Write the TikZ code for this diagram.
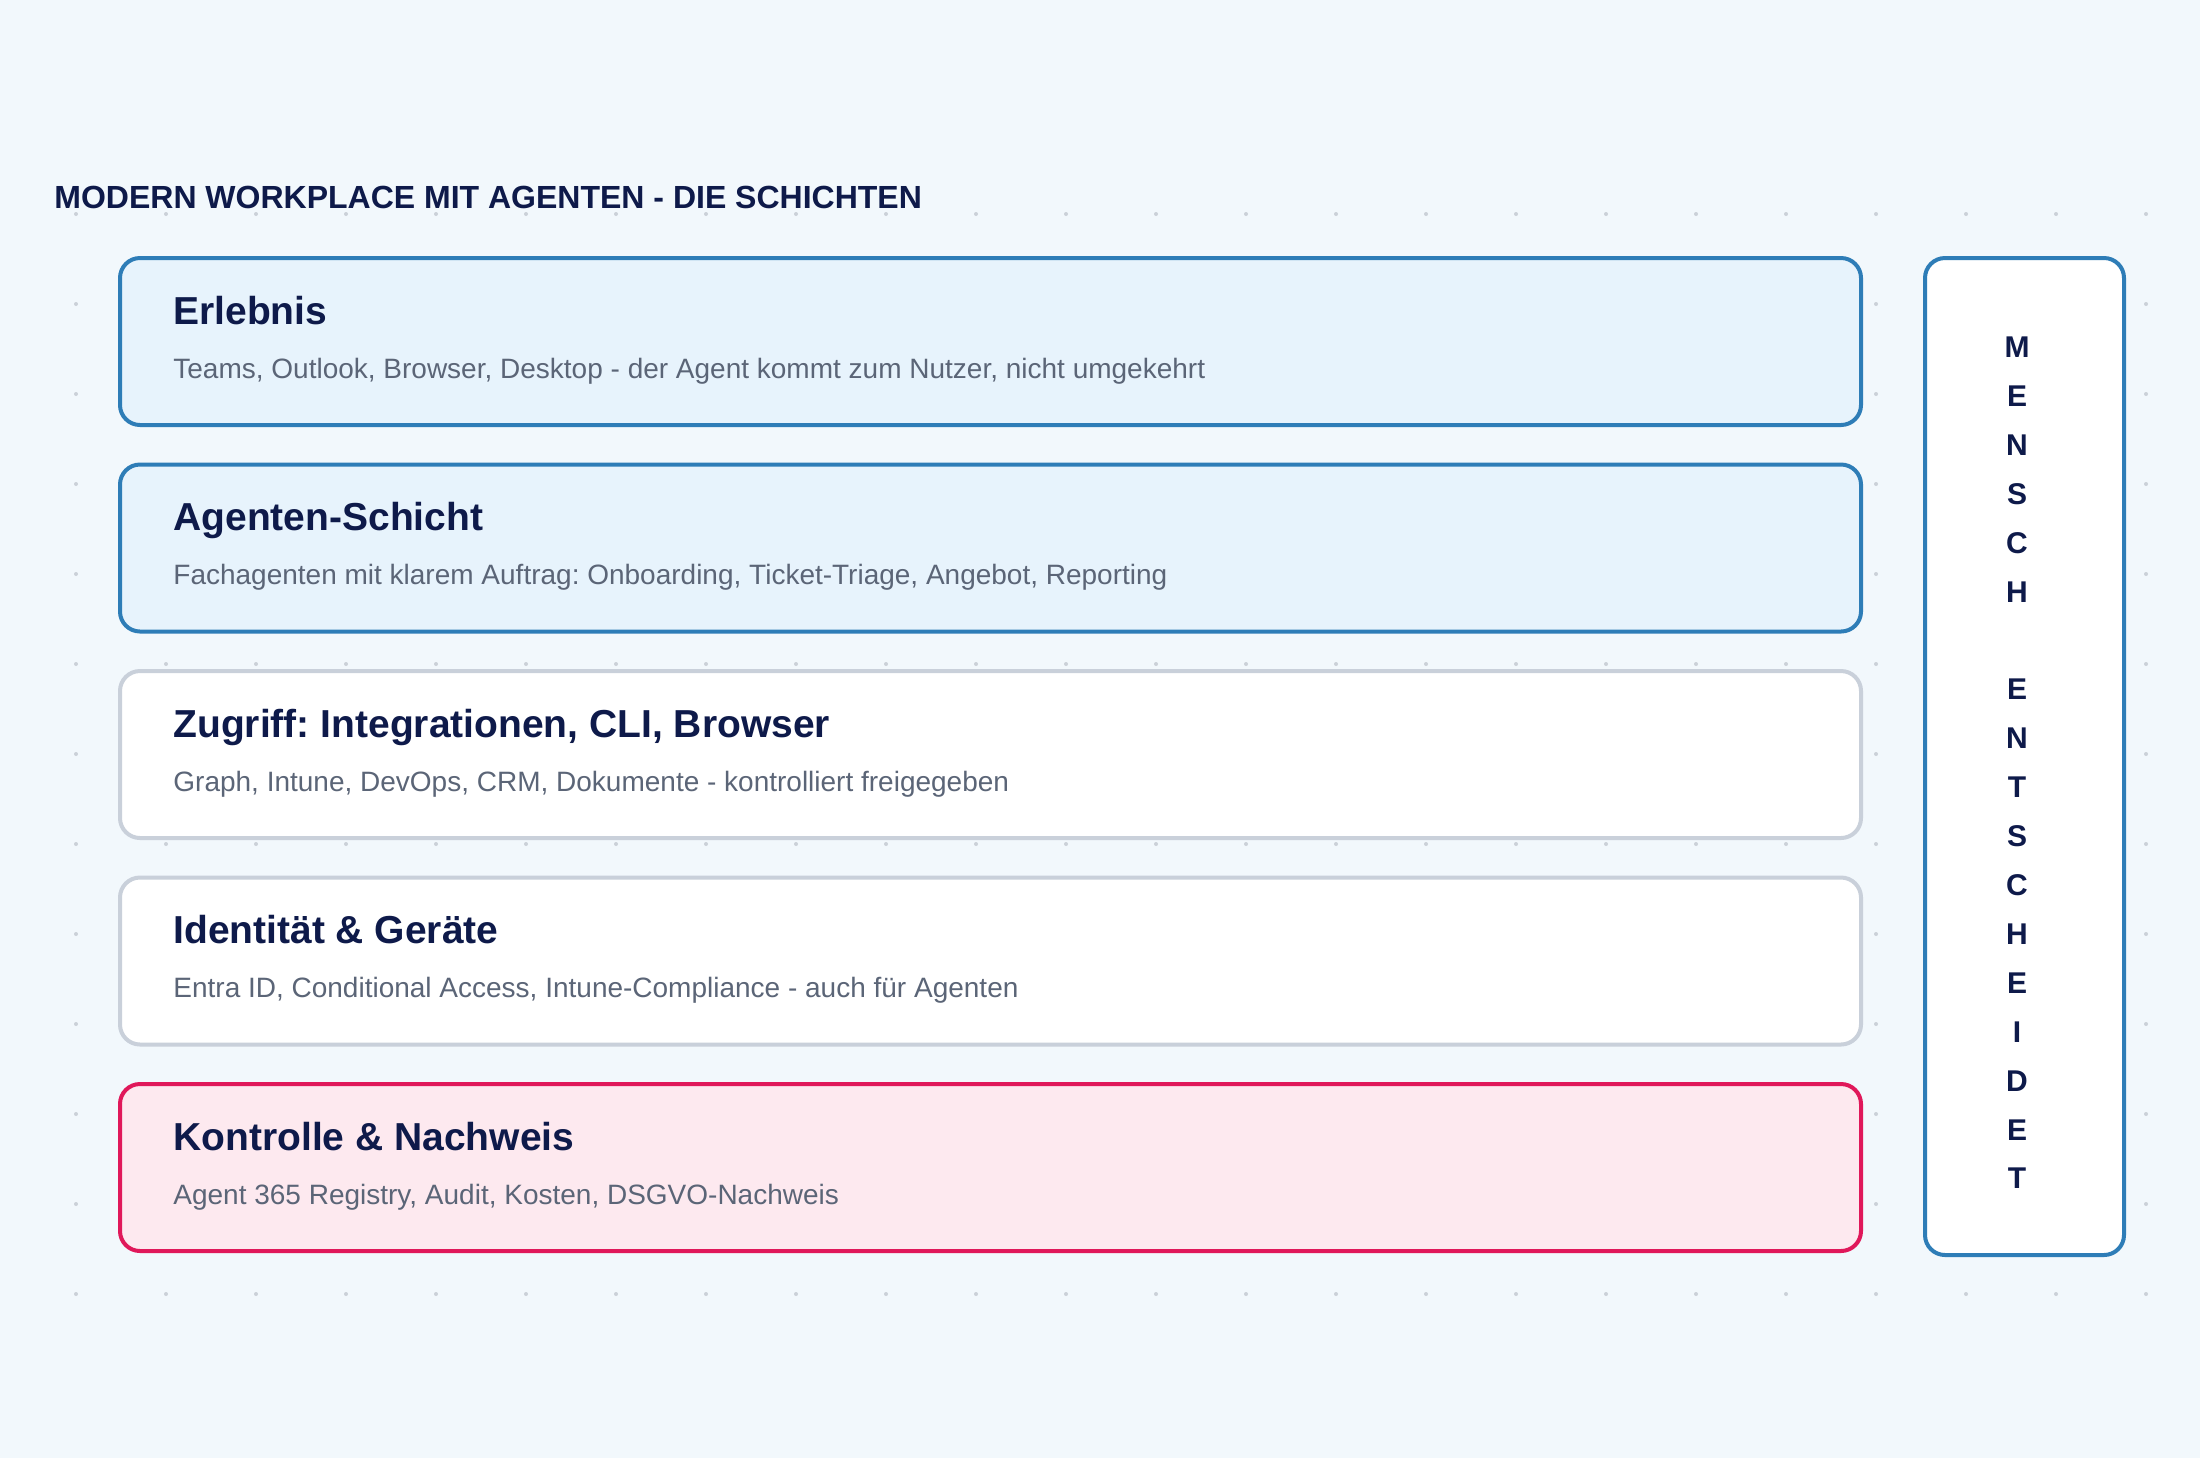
\documentclass[tikz,border=0pt]{standalone}
\usepackage{fontspec}
\setmainfont{Liberation Sans}
\frenchspacing
\definecolor{bgcol}{HTML}{F2F8FC}
\definecolor{dotcol}{HTML}{CBD1D8}
\definecolor{bluefill}{HTML}{E7F3FC}
\definecolor{bluestroke}{HTML}{2E7DB7}
\definecolor{graystroke}{HTML}{C9D0DA}
\definecolor{pinkfill}{HTML}{FDE9EF}
\definecolor{pinkstroke}{HTML}{E0185A}
\definecolor{navy}{HTML}{0E1A4A}
\definecolor{subgray}{HTML}{5B6577}
\begin{document}
\begin{tikzpicture}[x=0.5pt,y=-0.5pt,
  layer/.style={rounded corners=10pt, line width=2pt, minimum width=870.5pt, minimum height=83.5pt, inner sep=0pt},
  bluebox/.style={layer, draw=bluestroke, fill=bluefill},
  graybox/.style={layer, draw=graystroke, fill=white},
  pinkbox/.style={layer, draw=pinkstroke, fill=pinkfill},
  head/.style={anchor=base west, inner sep=0pt, text=navy, font=\fontsize{19.5pt}{23pt}\selectfont\bfseries},
  sub/.style={anchor=base west, inner sep=0pt, text=subgray, font=\fontsize{14pt}{17pt}\selectfont},
  title/.style={anchor=base west, inner sep=0pt, text=navy, font=\fontsize{16pt}{19pt}\selectfont\bfseries},
  sidebox/.style={rounded corners=10pt, line width=2pt, draw=bluestroke, fill=white, minimum width=99.5pt, minimum height=498.5pt, inner sep=0pt},
  vert/.style={align=center, inner sep=0pt, text=navy, font=\fontsize{15pt}{24.45pt}\selectfont\bfseries}
]
\fill[bgcol] (0,0) rectangle (2200,1458);
\useasboundingbox (0,0) rectangle (2200,1458);
% dot grid
\foreach \i in {0,...,23}{
  \foreach \j in {0,...,12}{
    \fill[dotcol] (76+90*\i,214+90*\j) circle (1pt);
  }
}
% title
\node[title] (title) at (54,208) {MODERN WORKPLACE MIT AGENTEN - DIE SCHICHTEN};
% layers
\node[bluebox] (l1) at (990.5,341.5) {};
\node[bluebox] (l2) at (990.5,548) {};
\node[graybox] (l3) at (990.5,754.5) {};
\node[graybox] (l4) at (990.5,961) {};
\node[pinkbox] (l5) at (990.5,1167.5) {};
% texts
\node[head] (h1) at (173,324) {Erlebnis};
\node[sub] (s1) at (173,378) {Teams, Outlook, Browser, Desktop - der Agent kommt zum Nutzer, nicht umgekehrt};
\node[head] (h2) at (173,530.5) {Agenten-Schicht};
\node[sub] (s2) at (173,584.5) {Fachagenten mit klarem Auftrag: Onboarding, Ticket-Triage, Angebot, Reporting};
\node[head] (h3) at (173,737) {Zugriff: Integrationen, CLI, Browser};
\node[sub] (s3) at (173,791) {Graph, Intune, DevOps, CRM, Dokumente - kontrolliert freigegeben};
\node[head] (h4) at (173,943.5) {Identität \& Geräte};
\node[sub] (s4) at (173,997.5) {Entra ID, Conditional Access, Intune-Compliance - auch für Agenten};
\node[head] (h5) at (173,1150) {Kontrolle \& Nachweis};
\node[sub] (s5) at (173,1204) {Agent 365 Registry, Audit, Kosten, DSGVO-Nachweis};
% side box
\node[sidebox] (side) at (2024.5,756.5) {};
\node[vert] (mensch) at (2017,763) {M\\E\\N\\S\\C\\H\\\mbox{}\\E\\N\\T\\S\\C\\H\\E\\I\\D\\E\\T};
\end{tikzpicture}
\end{document}
